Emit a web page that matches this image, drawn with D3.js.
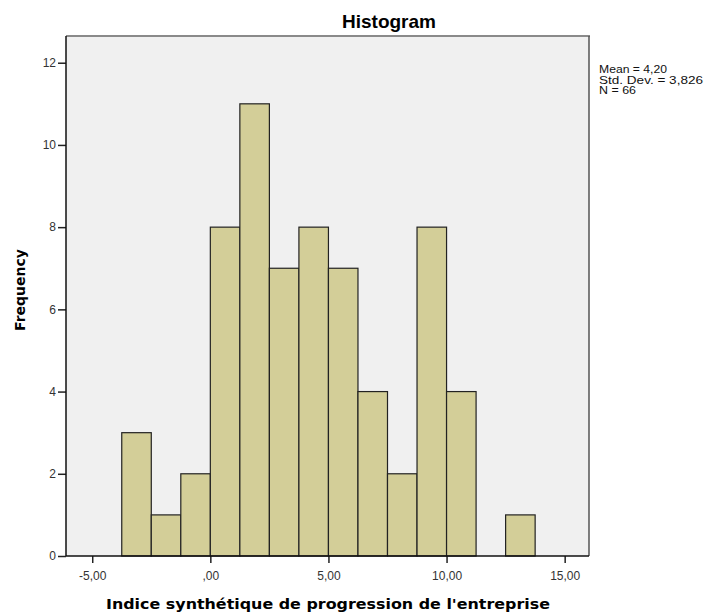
<!DOCTYPE html>
<html><head><meta charset="utf-8">
<script src="https://cdn.jsdelivr.net/npm/d3@7"></script>
<style>body{margin:0;background:#fff}svg{display:block}</style>
</head><body>
<script>
const binStart = [-3.75,-2.5,-1.25,0,1.25,2.5,3.75,5,6.25,7.5,8.75,10,11.25,12.5];
const binWidth = 1.25;
const counts = [3,1,2,8,11,7,8,7,4,2,8,4,0,1];
const xTicks = [-5,0,5,10,15];
const xTickLabels = ["-5,00",",00","5,00","10,00","15,00"];
const yTicks = [0,2,4,6,8,10,12];
const stats = ["Mean = 4,20","Std. Dev. = 3,826","N = 66"];
const statWidths = [68,104,37];

const W=704,H=613;
const L=66,R=589,T=36,B=556;
const x=d3.scaleLinear().domain([-6.11,16.03]).range([L,R]);
const y=d3.scaleLinear().domain([0,12.65]).range([B,T]);
const svg=d3.select("body").append("svg").attr("width",W).attr("height",H);

svg.append("rect").attr("x",L).attr("y",T).attr("width",R-L).attr("height",B-T).attr("fill","#f0f0f0");

svg.append("g").selectAll("rect").data(binStart.map((s,i)=>({s,c:counts[i]})).filter(d=>d.c>0))
 .join("rect")
 .attr("x",d=>x(d.s)).attr("width",d=>x(d.s+binWidth)-x(d.s))
 .attr("y",d=>y(d.c)).attr("height",d=>y(0)-y(d.c))
 .attr("fill","#d3ce98").attr("stroke","#222").attr("stroke-width",1.2);

// frame top/right
svg.append("line").attr("x1",L).attr("x2",R+1).attr("y1",T).attr("y2",T).attr("stroke","#8a8a8a").attr("stroke-width",2);
svg.append("line").attr("x1",R).attr("x2",R).attr("y1",T).attr("y2",B).attr("stroke","#555").attr("stroke-width",1.5);

const ya=d3.axisLeft(y).tickValues(yTicks).tickSize(8).tickPadding(2).tickFormat(d3.format("d"));
const gy=svg.append("g").attr("transform",`translate(${L},0)`).call(ya);
const xa=d3.axisBottom(x).tickValues(xTicks).tickSize(7).tickPadding(8).tickFormat((d,i)=>xTickLabels[i]);
const gx=svg.append("g").attr("transform",`translate(0,${B})`).call(xa);
[gx,gy].forEach(g=>{
  g.select(".domain").remove();
  g.selectAll(".tick line").attr("stroke","#222").attr("stroke-width",1.5);
  g.selectAll("text").attr("font-family","Liberation Sans, Arial, sans-serif").attr("font-size",12).attr("fill","#333");
});
svg.append("line").attr("x1",L).attr("x2",L).attr("y1",T).attr("y2",B).attr("stroke","#111").attr("stroke-width",1.5);
svg.append("line").attr("x1",L).attr("x2",R).attr("y1",B).attr("y2",B).attr("stroke","#111").attr("stroke-width",1.5);

svg.append("text").attr("x",389).attr("y",28).attr("text-anchor","middle")
 .attr("font-family","Liberation Sans, Arial, sans-serif").attr("font-weight","bold").attr("font-size",19).attr("fill","#000").text("Histogram");

svg.append("text").attr("x",328).attr("y",609).attr("text-anchor","middle")
 .attr("font-family","DejaVu Sans, Verdana, sans-serif").attr("font-weight","bold").attr("font-size",14).attr("fill","#000")
 .attr("textLength",444).attr("lengthAdjust","spacingAndGlyphs")
 .text("Indice synthétique de progression de l'entreprise");

svg.append("text").attr("transform","translate(25,290) rotate(-90)").attr("text-anchor","middle")
 .attr("font-family","DejaVu Sans, Verdana, sans-serif").attr("font-weight","bold").attr("font-size",14).attr("fill","#000")
 .text("Frequency");

svg.append("g").selectAll("text").data(stats).join("text")
 .attr("x",599).attr("y",(d,i)=>73+i*10.5)
 .attr("font-family","Liberation Sans, Arial, sans-serif").attr("font-size",10.5).attr("fill","#111")
 .attr("textLength",(d,i)=>statWidths[i]).attr("lengthAdjust","spacingAndGlyphs")
 .text(d=>d);
</script>
</body></html>
